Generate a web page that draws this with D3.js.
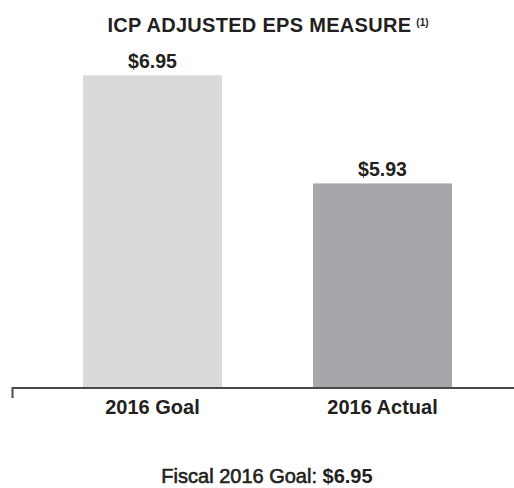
<!DOCTYPE html>
<html>
<head>
<meta charset="utf-8">
<script src="https://cdn.jsdelivr.net/npm/d3@7"></script>
<style>
  body { margin: 0; background: #fff; }
  svg { display: block; font-family: "Liberation Sans", Arial, Helvetica, sans-serif; }
</style>
</head>
<body>
<div id="chart"></div>
<script>
// data
const categories = ["2016 Goal", "2016 Actual"];
const values = [6.95, 5.93];
const valueLabels = ["$6.95", "$5.93"];
const barColors = ["#d9dadc", "#a6a7aa"];

const width = 514;
const height = 488;
const baseY = 388;
const ink = "#231f20";

const svg = d3.select("#chart")
    .append("svg")
    .attr("width", width)
    .attr("height", height);

const xScale = d3.scaleBand()
    .domain(categories)
    .range([14, 521])
    .paddingInner(0.3957)
    .paddingOuter(0.3);

// y axis does not start at zero in the original
const yScale = d3.scaleLinear()
    .domain([4, 7])
    .range([baseY, baseY - 318]);

// Title with superscript note
const title = svg.append("text")
    .attr("x", 268)
    .attr("y", 32)
    .attr("text-anchor", "middle")
    .style("font-size", "20px")
    .style("font-weight", "bold")
    .attr("fill", ink);
title.append("tspan").style("letter-spacing", "0.3px").text("ICP ADJUSTED EPS MEASURE");
title.append("tspan")
    .attr("dx", 5)
    .attr("dy", -6)
    .style("font-size", "10px")
    .text("(1)");

// Bars
svg.selectAll("rect.bar")
    .data(categories)
    .enter().append("rect")
    .attr("class", "bar")
    .attr("x", d => xScale(d))
    .attr("y", (d, i) => yScale(values[i]))
    .attr("width", xScale.bandwidth())
    .attr("height", (d, i) => baseY - yScale(values[i]))
    .attr("fill", (d, i) => barColors[i]);

// Value labels
svg.selectAll("text.value")
    .data(categories)
    .enter().append("text")
    .attr("class", "value")
    .attr("x", d => xScale(d) + xScale.bandwidth() / 2)
    .attr("y", (d, i) => yScale(values[i]) - 7)
    .attr("text-anchor", "middle")
    .style("font-size", "19.5px")
    .style("font-weight", "bold")
    .attr("fill", ink)
    .text((d, i) => valueLabels[i]);

// Baseline
svg.append("path")
    .attr("d", `M12.5,398V${baseY}H${width}`)
    .attr("fill", "none")
    .attr("stroke", "#4a4a4c")
    .attr("stroke-width", 2);

// Category labels
svg.selectAll("text.cat")
    .data(categories)
    .enter().append("text")
    .attr("class", "cat")
    .attr("x", d => xScale(d) + xScale.bandwidth() / 2)
    .attr("y", 414)
    .attr("text-anchor", "middle")
    .style("font-size", "20px")
    .style("font-weight", "bold")
    .attr("fill", ink)
    .text(d => d);

// Footer: label in medium weight, value in bold
const footer = svg.append("text")
    .attr("x", 267)
    .attr("y", 483)
    .attr("text-anchor", "middle")
    .style("font-size", "20px")
    .attr("fill", ink);
footer.append("tspan")
    .attr("stroke", ink)
    .attr("stroke-width", 0.6)
    .text("Fiscal 2016 Goal: ");
footer.append("tspan").style("font-weight", "bold").text("$6.95");
</script>
</body>
</html>
